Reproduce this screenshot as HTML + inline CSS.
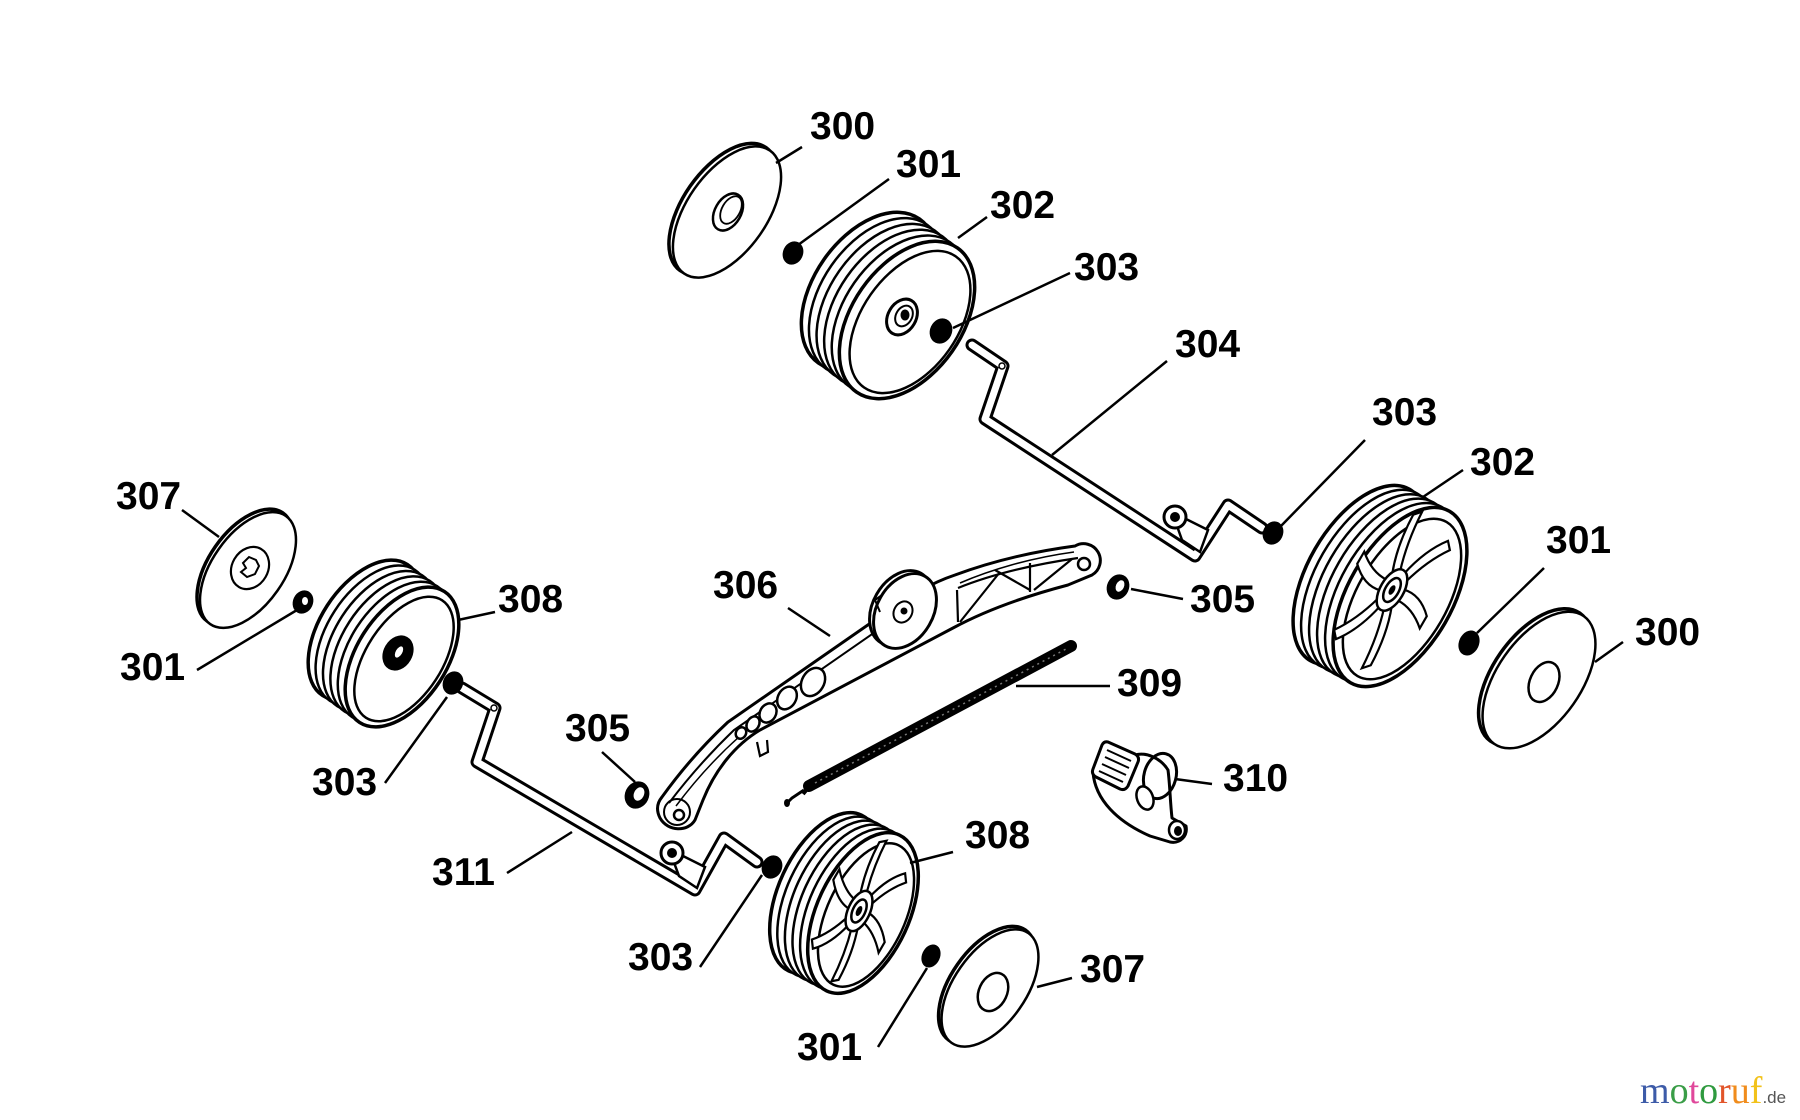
<!DOCTYPE html>
<html>
<head>
<meta charset="utf-8">
<style>
html,body{margin:0;padding:0;background:#fff;}
svg{display:block;}
.lbl{font-family:"Liberation Sans",Arial,sans-serif;font-weight:bold;font-size:39px;fill:#000;}
</style>
</head>
<body>
<svg width="1800" height="1120" viewBox="0 0 1800 1120" xmlns="http://www.w3.org/2000/svg">
<defs>
  <path id="blade" d="M 22,-7 Q 60,-12 96,6 L 96,22 Q 60,6 22,7 Z" fill="#fff" stroke="#000" stroke-width="2.2" vector-effect="non-scaling-stroke"/>
</defs>
<rect width="1800" height="1120" fill="#fff"/>

<!-- ===== Top wheel 302 ===== -->
<g stroke="#000" fill="#fff" stroke-width="3">
  <ellipse cx="869" cy="291" rx="55" ry="88" transform="rotate(35 869 291)" stroke-width="3.5"/>
  <ellipse cx="876.6" cy="296.8" rx="55" ry="88" transform="rotate(35 876.6 296.8)" stroke-width="2.5"/>
  <ellipse cx="884.2" cy="302.6" rx="55" ry="88" transform="rotate(35 884.2 302.6)" stroke-width="2.5"/>
  <ellipse cx="891.8" cy="308.4" rx="55" ry="88" transform="rotate(35 891.8 308.4)" stroke-width="2.5"/>
  <ellipse cx="899.4" cy="314.2" rx="55" ry="88" transform="rotate(35 899.4 314.2)" stroke-width="2.5"/>
  <ellipse cx="907" cy="320" rx="55" ry="88" transform="rotate(35 907 320)" stroke-width="3.5"/>
  <ellipse cx="910" cy="322" rx="48" ry="80" transform="rotate(35 910 322)" stroke-width="2.5"/>
  <ellipse cx="902" cy="317" rx="14" ry="19" transform="rotate(30 902 317)" stroke-width="3"/>
  <ellipse cx="904" cy="316" rx="8" ry="11" transform="rotate(30 904 316)" stroke-width="2"/>
  <ellipse cx="905" cy="315" rx="3" ry="4" fill="#000"/>
</g>

<!-- ===== Right wheel 302 ===== -->
<g stroke="#000" fill="#fff" stroke-width="3">
  <ellipse cx="1360" cy="575" rx="52" ry="99" transform="rotate(30 1360 575)" stroke-width="3.5"/>
  <ellipse cx="1368" cy="579.4" rx="52" ry="99" transform="rotate(30 1368 579.4)" stroke-width="2.5"/>
  <ellipse cx="1376" cy="583.8" rx="52" ry="99" transform="rotate(30 1376 583.8)" stroke-width="2.5"/>
  <ellipse cx="1384" cy="588.2" rx="52" ry="99" transform="rotate(30 1384 588.2)" stroke-width="2.5"/>
  <ellipse cx="1392" cy="592.6" rx="52" ry="99" transform="rotate(30 1392 592.6)" stroke-width="2.5"/>
  <ellipse cx="1400" cy="597" rx="52" ry="99" transform="rotate(30 1400 597)" stroke-width="3.5"/>
  <ellipse cx="1402" cy="599" rx="45" ry="89" transform="rotate(30 1402 599)" stroke-width="2.5"/>
</g>
<g transform="translate(1392,590) rotate(30) scale(0.45,0.88)">
  <use href="#blade" transform="rotate(0)"/>
  <use href="#blade" transform="rotate(60)"/>
  <use href="#blade" transform="rotate(120)"/>
  <use href="#blade" transform="rotate(180)"/>
  <use href="#blade" transform="rotate(240)"/>
  <use href="#blade" transform="rotate(300)"/>
  <circle r="26" fill="#fff" stroke="#000" stroke-width="2.5" vector-effect="non-scaling-stroke"/>
  <circle r="15" fill="#fff" stroke="#000" stroke-width="2.5" vector-effect="non-scaling-stroke"/>
  <circle r="6" fill="#000"/>
</g>

<!-- ===== Left wheel 308 ===== -->
<g stroke="#000" fill="#fff" stroke-width="3">
  <ellipse cx="365" cy="630" rx="45" ry="78" transform="rotate(33 365 630)" stroke-width="3.5"/>
  <ellipse cx="372.4" cy="635.4" rx="45" ry="78" transform="rotate(33 372.4 635.4)" stroke-width="2.5"/>
  <ellipse cx="379.8" cy="640.8" rx="45" ry="78" transform="rotate(33 379.8 640.8)" stroke-width="2.5"/>
  <ellipse cx="387.2" cy="646.2" rx="45" ry="78" transform="rotate(33 387.2 646.2)" stroke-width="2.5"/>
  <ellipse cx="394.6" cy="651.6" rx="45" ry="78" transform="rotate(33 394.6 651.6)" stroke-width="2.5"/>
  <ellipse cx="402" cy="657" rx="45" ry="78" transform="rotate(33 402 657)" stroke-width="3.5"/>
  <ellipse cx="404" cy="659" rx="38" ry="70" transform="rotate(33 404 659)" stroke-width="2.5"/>
  <ellipse cx="398" cy="653" rx="13" ry="17" transform="rotate(30 398 653)" fill="#000"/>
  <ellipse cx="399" cy="652" rx="4" ry="7" transform="rotate(30 399 652)" fill="#fff" stroke-width="1.5"/>
</g>

<!-- ===== Lower wheel 308 ===== -->
<g stroke="#000" fill="#fff" stroke-width="3">
  <ellipse cx="825" cy="893" rx="46" ry="86" transform="rotate(25 825 893)" stroke-width="3.5"/>
  <ellipse cx="832.6" cy="897" rx="46" ry="86" transform="rotate(25 832.6 897)" stroke-width="2.5"/>
  <ellipse cx="840.2" cy="901" rx="46" ry="86" transform="rotate(25 840.2 901)" stroke-width="2.5"/>
  <ellipse cx="847.8" cy="905" rx="46" ry="86" transform="rotate(25 847.8 905)" stroke-width="2.5"/>
  <ellipse cx="855.4" cy="909" rx="46" ry="86" transform="rotate(25 855.4 909)" stroke-width="2.5"/>
  <ellipse cx="863" cy="913" rx="46" ry="86" transform="rotate(25 863 913)" stroke-width="3.5"/>
  <ellipse cx="866" cy="915" rx="39" ry="77" transform="rotate(25 866 915)" stroke-width="2.5"/>
</g>
<g transform="translate(859,911) rotate(25) scale(0.39,0.77)">
  <use href="#blade" transform="rotate(10)"/>
  <use href="#blade" transform="rotate(70)"/>
  <use href="#blade" transform="rotate(130)"/>
  <use href="#blade" transform="rotate(190)"/>
  <use href="#blade" transform="rotate(250)"/>
  <use href="#blade" transform="rotate(310)"/>
  <circle r="28" fill="#fff" stroke="#000" stroke-width="2.5" vector-effect="non-scaling-stroke"/>
  <circle r="16" fill="#fff" stroke="#000" stroke-width="2.5" vector-effect="non-scaling-stroke"/>
  <circle r="7" fill="#000"/>
</g>

<!-- ===== Discs ===== -->
<g stroke="#000" fill="#fff" stroke-width="3">
  <!-- 300 top -->
  <ellipse cx="723" cy="209" rx="40" ry="75" transform="rotate(35 723 209)" stroke-width="3.5"/>
  <ellipse cx="727" cy="212" rx="40" ry="75" transform="rotate(35 727 212)" stroke-width="2.5"/>
  <ellipse cx="728" cy="212" rx="13" ry="20" transform="rotate(30 728 212)" stroke-width="2.5"/>
  <ellipse cx="731" cy="210" rx="9" ry="15" transform="rotate(30 731 210)" stroke-width="1.8"/>
  <!-- 300 right -->
  <ellipse cx="1535" cy="677" rx="42" ry="78" transform="rotate(35 1535 677)" stroke-width="3.5"/>
  <ellipse cx="1539" cy="680" rx="42" ry="78" transform="rotate(35 1539 680)" stroke-width="2.5"/>
  <ellipse cx="1544" cy="682" rx="14" ry="21" transform="rotate(25 1544 682)" stroke-width="2.5"/>
  <!-- 307 left -->
  <ellipse cx="245" cy="567" rx="36" ry="66" transform="rotate(35 245 567)" stroke-width="3.5"/>
  <ellipse cx="248" cy="570" rx="36" ry="66" transform="rotate(35 248 570)" stroke-width="2.5"/>
  <ellipse cx="250" cy="568" rx="18" ry="22" transform="rotate(30 250 568)" stroke-width="2.2"/>
  <path d="M 243,563 L 249,557 L 256,560 L 259,566 L 255,574 L 247,577 L 241,572 L 246,568 Z" stroke-width="2"/>
  <!-- 307 lower -->
  <ellipse cx="987" cy="985" rx="36" ry="67" transform="rotate(35 987 985)" stroke-width="3.5"/>
  <ellipse cx="990" cy="988" rx="36" ry="67" transform="rotate(35 990 988)" stroke-width="2.5"/>
  <ellipse cx="993" cy="992" rx="14" ry="20" transform="rotate(25 993 992)" stroke-width="2.5"/>
</g>

<!-- ===== Axle 304 ===== -->
<polyline points="972,345 1003,366 985,419 1195,556 1228,505 1262,528" fill="none" stroke="#000" stroke-width="13" stroke-linejoin="round" stroke-linecap="round"/>
<polyline points="972,345 1003,366 985,419 1195,556 1228,505 1262,528" fill="none" stroke="#fff" stroke-width="7" stroke-linejoin="round" stroke-linecap="round"/>
<circle cx="1002" cy="366" r="3" fill="none" stroke="#000" stroke-width="1.5"/>
<path d="M 1172,512 L 1208,530 L 1200,552 L 1182,540 Z" fill="#fff" stroke="#000" stroke-width="2.5"/>
<circle cx="1175" cy="517" r="11" fill="#fff" stroke="#000" stroke-width="3"/>
<circle cx="1175" cy="517" r="5" fill="#000"/>

<!-- ===== Axle 311 ===== -->
<polyline points="462,688 495,708 477,762 695,890 724,838 757,862" fill="none" stroke="#000" stroke-width="13" stroke-linejoin="round" stroke-linecap="round"/>
<polyline points="462,688 495,708 477,762 695,890 724,838 757,862" fill="none" stroke="#fff" stroke-width="7" stroke-linejoin="round" stroke-linecap="round"/>
<circle cx="494" cy="708" r="3" fill="none" stroke="#000" stroke-width="1.5"/>
<path d="M 669,849 L 705,867 L 697,888 L 679,876 Z" fill="#fff" stroke="#000" stroke-width="2.5"/>
<circle cx="672" cy="853" r="11" fill="#fff" stroke="#000" stroke-width="3"/>
<circle cx="672" cy="853" r="5" fill="#000"/>

<!-- ===== Nuts ===== -->
<g fill="#000">
  <ellipse cx="793" cy="253" rx="10" ry="12" transform="rotate(25 793 253)"/>
  <ellipse cx="941" cy="331" rx="11" ry="13" transform="rotate(25 941 331)"/>
  <ellipse cx="1273" cy="533" rx="10" ry="12" transform="rotate(25 1273 533)"/>
  <ellipse cx="1469" cy="643" rx="10" ry="13" transform="rotate(25 1469 643)"/>
  <ellipse cx="303" cy="602" rx="10" ry="12" transform="rotate(25 303 602)"/>
  <ellipse cx="453" cy="683" rx="10" ry="12" transform="rotate(25 453 683)"/>
  <ellipse cx="772" cy="867" rx="10" ry="12" transform="rotate(25 772 867)"/>
  <ellipse cx="931" cy="956" rx="9" ry="12" transform="rotate(25 931 956)"/>
  <!-- 305 rings -->
  <ellipse cx="1118" cy="587" rx="11" ry="13" transform="rotate(25 1118 587)"/>
  <ellipse cx="637" cy="795" rx="12" ry="14" transform="rotate(25 637 795)"/>
</g>
<g fill="#fff">
  <ellipse cx="1120" cy="586" rx="4" ry="6" transform="rotate(25 1120 586)"/>
  <ellipse cx="639" cy="794" rx="5" ry="7" transform="rotate(25 639 794)"/>
  <ellipse cx="305" cy="601" rx="3" ry="4"/>
</g>

<!-- ===== Lever 306 ===== -->
<g stroke="#000" fill="#fff">
  <path d="M 662,797 C 680,772 700,748 728,722 L 875,620 C 905,600 925,585 955,575 C 990,562 1030,552 1075,546 A 16 16 0 0 1 1092,575 L 1068,585 C 1030,595 990,608 953,628 L 760,730 C 735,745 715,770 703,800 L 695,820 C 688,832 668,832 660,818 C 656,810 657,803 662,797 Z" stroke-width="3"/>
  <path d="M 669,803 C 688,778 708,755 734,730 L 878,630" fill="none" stroke-width="2"/>
  <path d="M 676,806 C 694,782 713,760 740,736" fill="none" stroke-width="1.5"/>
  <path d="M 958,588 C 990,575 1030,565 1078,558" fill="none" stroke-width="2.2"/>
  <path d="M 960,583 C 990,570 1030,558 1074,552" fill="none" stroke-width="1.5"/>
  <g fill="none" stroke-width="2.2">
    <line x1="957" y1="590" x2="958" y2="622"/>
    <line x1="960" y1="622" x2="1000" y2="572"/>
    <line x1="995" y1="570" x2="1030" y2="590"/>
    <line x1="1030" y1="563" x2="1030" y2="592"/>
    <line x1="1034" y1="590" x2="1072" y2="559"/>
  </g>
  <circle cx="1084" cy="564" r="6" stroke-width="2.5"/>
  <circle cx="677" cy="812" r="13" stroke-width="2" fill="none"/>
  <circle cx="679" cy="815" r="5" stroke-width="2.5"/>
  <ellipse cx="901" cy="608" rx="28" ry="40" transform="rotate(30 901 608)" stroke-width="3"/>
  <ellipse cx="905" cy="611" rx="28" ry="40" transform="rotate(30 905 611)" stroke-width="3"/>
  <ellipse cx="903" cy="612" rx="9" ry="11" transform="rotate(30 903 612)" stroke-width="2"/>
  <circle cx="904" cy="611" r="3.5" fill="#000" stroke="none"/>
  <ellipse cx="813" cy="682" rx="11" ry="15" transform="rotate(30 813 682)" stroke-width="2.5"/>
  <ellipse cx="787" cy="698" rx="9" ry="12" transform="rotate(30 787 698)" stroke-width="2.5"/>
  <ellipse cx="768" cy="713" rx="8" ry="10" transform="rotate(30 768 713)" stroke-width="2.5"/>
  <ellipse cx="753" cy="724" rx="6" ry="8" transform="rotate(30 753 724)" stroke-width="2.5"/>
  <ellipse cx="741" cy="733" rx="5" ry="6" transform="rotate(30 741 733)" stroke-width="2.5"/>
  <path d="M 757,742 L 760,756 L 768,752 L 767,740" stroke-width="2.2"/>
  <path d="M 880,612 L 875,600 L 882,595" fill="none" stroke-width="2"/>
</g>

<!-- ===== Spring 309 ===== -->
<line x1="809" y1="786" x2="1071" y2="646" stroke="#000" stroke-width="12" stroke-linecap="round"/>
<line x1="815" y1="783" x2="1066" y2="649" stroke="#777" stroke-width="1.5" stroke-dasharray="2 4"/>
<line x1="803" y1="794" x2="813" y2="782" stroke="#000" stroke-width="4"/>
<path d="M 804,790 L 792,798 L 786,804" fill="none" stroke="#000" stroke-width="3"/>
<ellipse cx="787" cy="803" rx="3" ry="4" fill="#000"/>

<!-- ===== Part 310 ===== -->
<g stroke="#000" fill="#fff" stroke-width="3" stroke-linejoin="round">
  <path d="M 1093,772 C 1095,800 1118,822 1150,836 L 1170,842 C 1180,844 1188,836 1186,826 L 1172,818 C 1170,800 1170,785 1168,770 C 1160,757 1145,752 1135,755 Z"/>
  <ellipse cx="1160" cy="776" rx="16" ry="23" transform="rotate(15 1160 776)" fill="none"/>
  <path d="M 1108,742 L 1135,754 Q 1140,757 1138,762 L 1128,786 Q 1125,791 1120,789 L 1096,777 Q 1091,774 1093,769 L 1102,745 Q 1104,741 1108,742 Z"/>
  <g stroke-width="2" fill="none">
    <line x1="1107" y1="750" x2="1131" y2="761"/>
    <line x1="1105" y1="757" x2="1129" y2="768"/>
    <line x1="1102" y1="764" x2="1126" y2="775"/>
    <line x1="1099" y1="771" x2="1123" y2="782"/>
  </g>
  <ellipse cx="1145" cy="798" rx="8" ry="12" transform="rotate(-20 1145 798)" stroke-width="2.5"/>
  <ellipse cx="1177" cy="830" rx="8" ry="9" stroke-width="2.5"/>
  <ellipse cx="1178" cy="831" rx="4" ry="5" fill="#000" stroke="none"/>
</g>

<!-- ===== Leader lines ===== -->
<g stroke="#000" stroke-width="2.5" fill="none">
  <line x1="802" y1="147" x2="776" y2="163"/>
  <line x1="889" y1="179" x2="798" y2="245"/>
  <line x1="987" y1="217" x2="958" y2="238"/>
  <line x1="1070" y1="273" x2="953" y2="328"/>
  <line x1="1167" y1="361" x2="1052" y2="455"/>
  <line x1="1365" y1="440" x2="1280" y2="527"/>
  <line x1="1463" y1="470" x2="1423" y2="497"/>
  <line x1="1544" y1="568" x2="1477" y2="633"/>
  <line x1="1623" y1="642" x2="1595" y2="662"/>
  <line x1="1183" y1="599" x2="1131" y2="589"/>
  <line x1="1016" y1="686" x2="1110" y2="686"/>
  <line x1="1175" y1="779" x2="1212" y2="784"/>
  <line x1="953" y1="852" x2="910" y2="863"/>
  <line x1="1072" y1="978" x2="1037" y2="987"/>
  <line x1="878" y1="1047" x2="927" y2="968"/>
  <line x1="700" y1="967" x2="762" y2="875"/>
  <line x1="507" y1="873" x2="572" y2="832"/>
  <line x1="602" y1="752" x2="635" y2="782"/>
  <line x1="788" y1="608" x2="830" y2="636"/>
  <line x1="495" y1="612" x2="458" y2="620"/>
  <line x1="182" y1="510" x2="219" y2="537"/>
  <line x1="197" y1="670" x2="297" y2="610"/>
  <line x1="385" y1="783" x2="447" y2="697"/>
</g>

<!-- ===== Labels ===== -->
<g class="lbl">
  <text class="lbl" x="810" y="139">300</text>
  <text class="lbl" x="896" y="177">301</text>
  <text class="lbl" x="990" y="218">302</text>
  <text class="lbl" x="1074" y="280">303</text>
  <text class="lbl" x="1175" y="357">304</text>
  <text class="lbl" x="1372" y="425">303</text>
  <text class="lbl" x="1470" y="475">302</text>
  <text class="lbl" x="1546" y="553">301</text>
  <text class="lbl" x="1635" y="645">300</text>
  <text class="lbl" x="1190" y="612">305</text>
  <text class="lbl" x="1117" y="696">309</text>
  <text class="lbl" x="1223" y="791">310</text>
  <text class="lbl" x="965" y="848">308</text>
  <text class="lbl" x="1080" y="982">307</text>
  <text class="lbl" x="797" y="1060">301</text>
  <text class="lbl" x="628" y="970">303</text>
  <text class="lbl" x="432" y="885">311</text>
  <text class="lbl" x="565" y="741">305</text>
  <text class="lbl" x="713" y="598">306</text>
  <text class="lbl" x="498" y="612">308</text>
  <text class="lbl" x="116" y="509">307</text>
  <text class="lbl" x="120" y="680">301</text>
  <text class="lbl" x="312" y="795">303</text>
</g>

<!-- ===== Watermark ===== -->
<text x="1640" y="1103" font-family="'Liberation Serif', serif" font-size="38"><tspan fill="#3d5ba8">m</tspan><tspan fill="#3a9d47">o</tspan><tspan fill="#e0489b">t</tspan><tspan fill="#2f9a3f">o</tspan><tspan fill="#e2552a">r</tspan><tspan fill="#f08c1c">u</tspan><tspan fill="#f2c21a">f</tspan><tspan fill="#555" font-family="'Liberation Sans', sans-serif" font-size="17">.de</tspan></text>
</svg>
</body>
</html>
